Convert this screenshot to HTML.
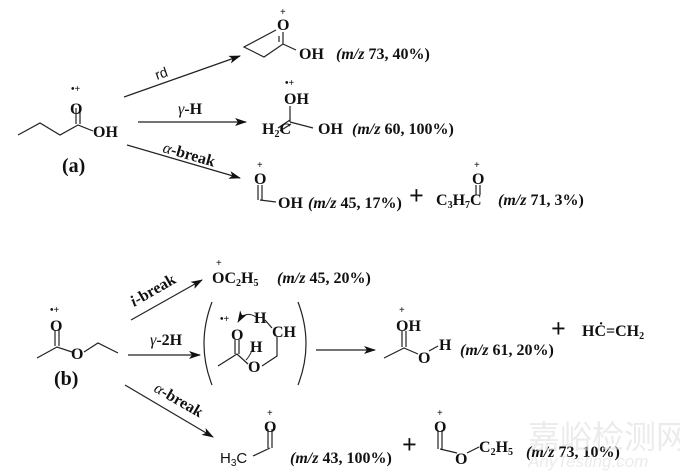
<!DOCTYPE html>
<html><head><meta charset="utf-8"><style>
html,body{margin:0;padding:0;background:#fff}
svg{display:block}
text{font-family:"Liberation Serif",serif;font-weight:bold;fill:#111;font-size:16px}
.s{font-size:10px}
.n{font-weight:normal}
</style></head><body>
<svg width="680" height="471" viewBox="0 0 680 471" xmlns="http://www.w3.org/2000/svg">
<defs><marker id="a" markerWidth="12" markerHeight="8" refX="11" refY="4" orient="auto" markerUnits="userSpaceOnUse"><path d="M0,0 L12,4 L0,8 L3,4Z" fill="#111"/></marker></defs>
<g stroke="#222" stroke-width="1.2" fill="none">
<polyline points="18,135 40,123 60,135 78,125 93,131"/>
<line x1="76" y1="124" x2="76" y2="108"/><line x1="80" y1="124" x2="80" y2="108"/>
<line x1="124" y1="97" x2="240" y2="56" marker-end="url(#a)"/>
<line x1="138" y1="122" x2="246" y2="122" marker-end="url(#a)"/>
<line x1="127" y1="145" x2="240" y2="178" marker-end="url(#a)"/>
<polyline points="276,30 244,47 264,57 283,44 296,50"/>
<line x1="283" y1="44" x2="283" y2="32"/><line x1="279" y1="42" x2="279" y2="36"/>
<line x1="290" y1="122" x2="290" y2="106"/>
<line x1="278" y1="128" x2="290" y2="120"/><line x1="280" y1="131" x2="291" y2="124"/>
<line x1="290" y1="122" x2="313" y2="128"/>
<line x1="258" y1="185" x2="258" y2="200"/><line x1="262" y1="185" x2="262" y2="200"/>
<line x1="260" y1="200" x2="276" y2="202"/>
<line x1="476" y1="185" x2="476" y2="195"/><line x1="480" y1="185" x2="480" y2="195"/>
<polyline points="37,358 57,347 72,352"/><polyline points="84,352 98,343 118,353"/>
<line x1="55" y1="346" x2="55" y2="330"/><line x1="59" y1="346" x2="59" y2="330"/>
<line x1="131" y1="320" x2="202" y2="280" marker-end="url(#a)"/>
<line x1="128" y1="355" x2="200" y2="355" marker-end="url(#a)"/>
<line x1="125" y1="385" x2="213" y2="437" marker-end="url(#a)"/>
<path d="M212,302 Q196,344 212,385"/><path d="M298,302 Q314,344 298,385"/>
<polyline points="218,366 237,354 248,364"/>
<line x1="235" y1="354" x2="235" y2="340"/><line x1="239" y1="354" x2="239" y2="340"/>
<polyline points="262,366 277,356 277,337"/>
<line x1="265" y1="320" x2="272" y2="328"/>
<path d="M256,317 Q245,310 238,322" marker-end="url(#a)" stroke-width="1"/>
<path d="M253,348 Q250,356 246,360" stroke-width="1"/>
<line x1="316" y1="350" x2="375" y2="350" marker-end="url(#a)"/>
<polyline points="384,358 404,348 418,354"/>
<line x1="402" y1="347" x2="402" y2="331"/><line x1="406" y1="347" x2="406" y2="331"/>
<line x1="429" y1="351" x2="438" y2="346"/>
<line x1="268" y1="429" x2="268" y2="448"/><line x1="272" y1="429" x2="272" y2="448"/>
<line x1="253" y1="456" x2="270" y2="448"/>
<line x1="438" y1="430" x2="438" y2="449"/><line x1="442" y1="430" x2="442" y2="449"/>
<line x1="440" y1="449" x2="457" y2="453"/><line x1="467" y1="453" x2="479" y2="447"/>
</g>
<text x="70" y="114">O</text><text class="s" x="71" y="92">•+</text>
<text x="93" y="137">OH</text>
<text x="62" y="172" style="font-size:20px">(a)</text>
<text class="n" x="157" y="80" transform="rotate(-19 157 80)" style="font-family:'Liberation Sans',sans-serif;font-size:14px">rd</text>
<text x="178" y="114" class="n"><tspan font-style="italic">γ</tspan><tspan font-weight="bold">-H</tspan></text>
<text x="162" y="152" transform="rotate(16 162 152)"><tspan font-style="italic" font-weight="normal">α</tspan>-break</text>
<text x="277" y="30" style="font-weight:bold">O</text><text class="s" x="280" y="15">+</text>
<text x="299" y="59">OH</text><text x="336" y="59"><tspan font-style="italic">(m/z</tspan> 73, 40%)</text>
<text x="284" y="104">OH</text><text class="s" x="285" y="86">•+</text>
<text x="262" y="134">H<tspan font-size="10" dy="3">2</tspan><tspan dy="-3">C</tspan></text>
<text x="318" y="134">OH</text><text x="352" y="134"><tspan font-style="italic">(m/z</tspan>  60, 100%)</text>
<text x="254" y="184">O</text><text class="s" x="257" y="168">+</text>
<text x="278" y="208">OH</text><text x="308" y="208"><tspan font-style="italic">(m/z</tspan> 45, 17%)</text>
<text x="409" y="204" style="font-size:26px">+</text>
<text x="436" y="205">C<tspan font-size="10" dy="3">3</tspan><tspan dy="-3">H</tspan><tspan font-size="10" dy="3">7</tspan><tspan dy="-3">C</tspan></text>
<text x="472" y="184">O</text><text class="s" x="474" y="168">+</text>
<text x="498" y="205"><tspan font-style="italic">(m/z</tspan> 71, 3%)</text>
<text x="50" y="331">O</text><text class="s" x="50" y="313">•+</text>
<text x="71" y="359">O</text>
<text x="54" y="385" style="font-size:20px">(b)</text>
<text x="134" y="307" transform="rotate(-30 134 307)"><tspan font-style="italic">i</tspan>-break</text>
<text x="150" y="345" class="n"><tspan font-style="italic">γ</tspan><tspan font-weight="bold">-2H</tspan></text>
<text x="153" y="391" transform="rotate(30 153 391)"><tspan font-style="italic" font-weight="normal">α</tspan>-break</text>
<text x="212" y="283">OC<tspan font-size="10" dy="3">2</tspan><tspan dy="-3">H</tspan><tspan font-size="10" dy="3">5</tspan></text>
<text class="s" x="216" y="266">+</text>
<text x="277" y="283"><tspan font-style="italic">(m/z</tspan> 45, 20%)</text>
<text x="231" y="340">O</text><text class="s" x="220" y="322">•+</text>
<text x="254" y="323">H</text><text x="272" y="337">CH</text>
<text x="250" y="352">H</text><text x="248" y="372">O</text>
<text x="396" y="331">OH</text><text class="s" x="399" y="313">+</text>
<text x="418" y="363">O</text><text x="439" y="350">H</text>
<text x="460" y="355"><tspan font-style="italic">(m/z</tspan> 61, 20%)</text>
<text x="551" y="337" style="font-size:26px">+</text>
<text x="582" y="336">HĊ=CH<tspan font-size="10" dy="3">2</tspan></text>
<text x="264" y="432">O</text><text class="s" x="267" y="416">+</text>
<text class="n" x="220" y="463" style="font-family:'Liberation Sans',sans-serif;font-size:15px">H<tspan font-size="10" dy="3">3</tspan><tspan dy="-3">C</tspan></text>
<text x="290" y="463"><tspan font-style="italic">(m/z</tspan> 43, 100%)</text>
<text x="402" y="453" style="font-size:26px">+</text>
<text x="434" y="432">O</text><text class="s" x="437" y="416">+</text>
<text x="455" y="464">O</text>
<text x="479" y="452">C<tspan font-size="10" dy="3">2</tspan><tspan dy="-3">H</tspan><tspan font-size="10" dy="3">5</tspan></text>
<text x="526" y="457"><tspan font-style="italic">(m/z</tspan> 73, 10%)</text>
<text x="528" y="448" style="font-family:'Noto Sans CJK SC',sans-serif;font-size:32px;fill:#ddd;font-weight:normal;fill-opacity:0.6">嘉峪检测网</text>
<text x="528" y="467" style="font-family:'Liberation Sans',sans-serif;font-size:17px;font-style:italic;fill:#ddd;font-weight:normal;fill-opacity:0.6">AnyTesting.com</text>
</svg>
</body></html>
